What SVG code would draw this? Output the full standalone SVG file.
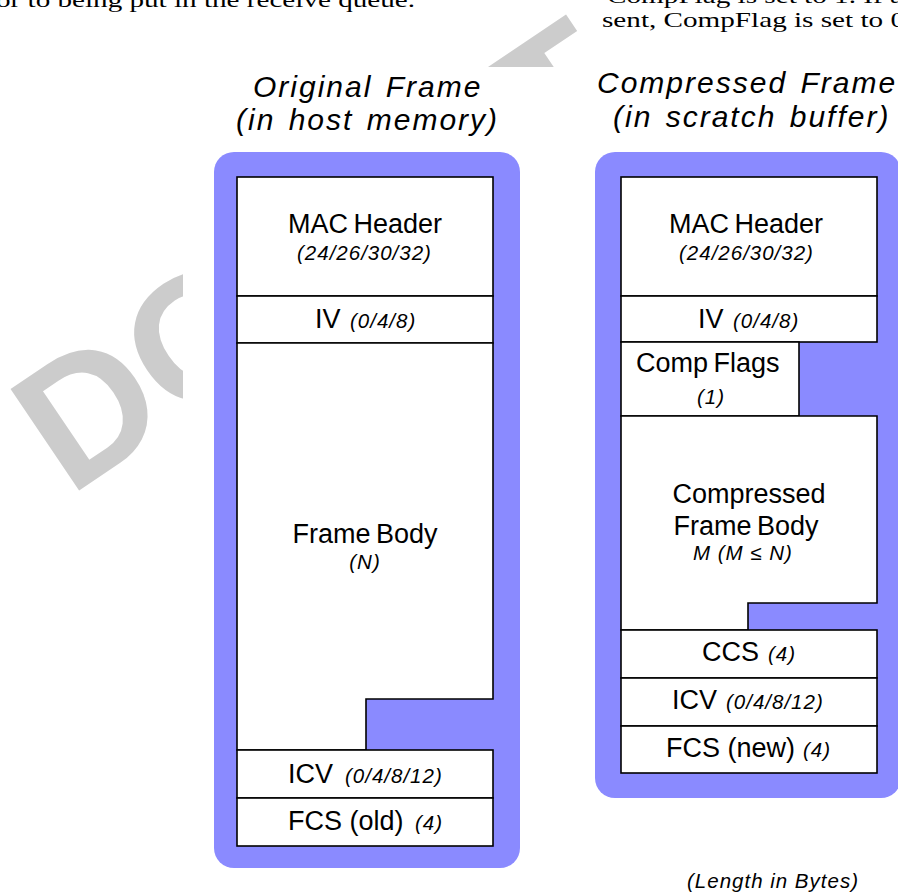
<svg xmlns="http://www.w3.org/2000/svg" width="898" height="892" viewBox="0 0 898 892">
<style>
.wm{font-family:"Liberation Sans",Arial,sans-serif;font-weight:bold;font-size:178px;fill:#cccccc}
.para{font-family:"Liberation Serif","DejaVu Serif",serif;font-size:22px;fill:#000}
.title{font-family:"Liberation Sans",Arial,sans-serif;font-style:italic;font-size:30px;letter-spacing:2px;word-spacing:3px;fill:#000}
.lbl{font-family:"Liberation Sans",Arial,sans-serif;font-size:27px;fill:#000}
.sub{font-family:"Liberation Sans",Arial,sans-serif;font-style:italic;font-size:20.5px;letter-spacing:1px;fill:#000}
.frame{fill:#8a8aff}
.cell{fill:#fff;stroke:#000;stroke-width:1.6}
</style>
<rect x="0" y="0" width="898" height="892" fill="#fff"/>
<!-- watermark (visible parts) -->
<g id="watermark" transform="translate(69.2,497.3) rotate(-34)">
<text class="wm" x="0" y="0">D</text>
<text class="wm" x="128.5" y="0">O</text>
<text class="wm" x="575" y="0">T</text>
<text class="wm" x="739" y="-80">C</text>
</g>
<rect x="183" y="67" width="715" height="825" fill="#fff"/>
<rect x="590" y="19" width="308" height="873" fill="#fff"/>
<!-- paragraph fragments -->
<text class="para" x="-4" y="7" textLength="419" lengthAdjust="spacingAndGlyphs">or to being put in the receive queue.</text>
<text class="para" x="607" y="2.5" textLength="296" lengthAdjust="spacingAndGlyphs">CompFlag is set to 1. If a</text>
<text class="para" x="602" y="27" textLength="303" lengthAdjust="spacingAndGlyphs">sent, CompFlag is set to 0</text>
<!-- titles -->
<g id="title-original">
<text class="title" x="253" y="97">Original Frame</text>
<text class="title" x="236" y="130">(in host memory)</text>
</g>
<g id="title-compressed">
<text class="title" x="597" y="93">Compressed Frame</text>
<text class="title" x="613" y="127">(in scratch buffer)</text>
</g>
<!-- original frame -->
<g id="original-frame">
<rect class="frame" x="214" y="152" width="306" height="716" rx="20" ry="20"/>
<g id="orig-mac">
<rect class="cell" x="237" y="177" width="256" height="119"/>
<text class="lbl" x="288" y="233" word-spacing="-2">MAC Header</text>
<text class="sub" x="297" y="260">(24/26/30/32)</text>
</g>
<g id="orig-iv">
<rect class="cell" x="237" y="296" width="256" height="47"/>
<text class="lbl" x="315" y="328">IV</text>
<text class="sub" x="350" y="328">(0/4/8)</text>
</g>
<g id="orig-body">
<path class="cell" d="M237,343 H493 V699 H366 V750 H237 Z"/>
<text class="lbl" x="365" y="543" text-anchor="middle" word-spacing="-2">Frame Body</text>
<text class="sub" x="365" y="569" text-anchor="middle">(N)</text>
</g>
<g id="orig-icv">
<rect class="cell" x="237" y="750" width="256" height="48"/>
<text class="lbl" x="288" y="783">ICV</text>
<text class="sub" x="345" y="783">(0/4/8/12)</text>
</g>
<g id="orig-fcs">
<rect class="cell" x="237" y="798" width="256" height="48"/>
<text class="lbl" x="288" y="830">FCS (old)</text>
<text class="sub" x="415" y="830">(4)</text>
</g>
</g>
<!-- compressed frame -->
<g id="compressed-frame">
<rect class="frame" x="595" y="152" width="306" height="646" rx="20" ry="20"/>
<g id="comp-mac">
<rect class="cell" x="621" y="177" width="256" height="119"/>
<text class="lbl" x="669" y="233" word-spacing="-2">MAC Header</text>
<text class="sub" x="679" y="260">(24/26/30/32)</text>
</g>
<g id="comp-iv">
<rect class="cell" x="621" y="296" width="256" height="46"/>
<text class="lbl" x="698" y="328">IV</text>
<text class="sub" x="733" y="328">(0/4/8)</text>
</g>
<g id="comp-flags">
<rect class="cell" x="621" y="342" width="178" height="74"/>
<text class="lbl" x="636" y="372" word-spacing="-2">Comp Flags</text>
<text class="sub" x="697" y="404">(1)</text>
</g>
<g id="comp-body">
<path class="cell" d="M621,416 H877 V603 H748 V630 H621 Z"/>
<text class="lbl" x="749" y="503" text-anchor="middle">Compressed</text>
<text class="lbl" x="746" y="535" text-anchor="middle" word-spacing="-2">Frame Body</text>
<text class="sub" x="693" y="560">M (M ≤  N)</text>
</g>
<g id="comp-ccs">
<rect class="cell" x="621" y="630" width="256" height="48"/>
<text class="lbl" x="702" y="661">CCS</text>
<text class="sub" x="768" y="661">(4)</text>
</g>
<g id="comp-icv">
<rect class="cell" x="621" y="678" width="256" height="48"/>
<text class="lbl" x="672" y="709">ICV</text>
<text class="sub" x="726" y="709">(0/4/8/12)</text>
</g>
<g id="comp-fcs">
<rect class="cell" x="621" y="726" width="256" height="47"/>
<text class="lbl" x="666" y="757">FCS (new)</text>
<text class="sub" x="803" y="757">(4)</text>
</g>
</g>
<text class="sub" x="687" y="888">(Length in Bytes)</text>
</svg>
